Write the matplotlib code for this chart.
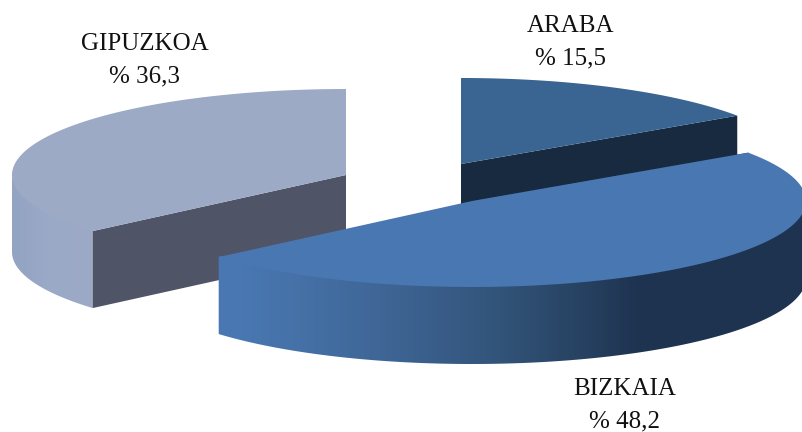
import numpy as np
import matplotlib
matplotlib.use('Agg')
import matplotlib.pyplot as plt
from matplotlib.colors import LinearSegmentedColormap
from matplotlib.patches import Polygon

# Data
names = ['ARABA', 'BIZKAIA', 'GIPUZKOA']
shares = [15.5, 48.2, 36.3]
share_labels = ['% 15,5', '% 48,2', '% 36,3']

top_colors = ['#3a6491', '#4977b1', '#9caac6']
cut_colors = ['#182a40', '#1e3350', '#4f5566']

# apex of each exploded slice, in pixels
centers = [(461, 164), (472, 201), (346, 175)]
label_pos = [(571, 42), (625, 405), (145, 60)]
A = 334
B = 86
DEPTH = 77

fig = plt.figure(figsize=(8.03, 4.32), dpi=100)
ax = fig.add_axes([0, 0, 1, 1])
ax.axis('off')


# point on the rim, angle in degrees clockwise from the top
def rim(center, t, drop=0):
    t = np.radians(t)
    return np.column_stack([center[0] + A * np.sin(t), center[1] - B * np.cos(t) + drop])


def gradient_wall(center, t0, t1, stops, z):
    ts = np.linspace(t0, t1, 200)
    # upper edge sits 2px under the top face so no light seam shows
    upper = rim(center, ts, -2)
    upper[0], upper[-1] = rim(center, ts[[0, -1]])
    pts = np.vstack([upper, rim(center, ts[::-1], DEPTH)])
    patch = Polygon(pts, closed=True, transform=ax.transData, facecolor='none', edgecolor='none')
    ax.add_patch(patch)
    cmap = LinearSegmentedColormap.from_list('wall', [(p / 803, c) for p, c in stops])
    img = ax.imshow(np.linspace(0, 1, 803).reshape(1, -1), cmap=cmap, vmin=0, vmax=1,
                    extent=[0, 803, 432, 0], aspect='auto', zorder=z)
    img.set_clip_path(patch)


edges = np.concatenate([[0], np.cumsum(shares) / sum(shares) * 360])

# Gipuzkoa first, then Araba, Bizkaia lies on top of both
for i in [2, 0, 1]:
    c = centers[i]
    t0, t1 = edges[i], edges[i + 1]
    z = {2: 2, 0: 2, 1: 4}[i]
    if i == 1:
        gradient_wall(c, 90, t1, [(0, '#4977b1'), (240, '#4977b1'), (300, '#4571a7'),
                                  (400, '#3d6392'), (500, '#325479'), (590, '#26405f'),
                                  (640, '#1e3350'), (803, '#1f3350')], 4)
    if i == 2:
        gradient_wall(c, t0, 270, [(0, '#93a3c2'), (12, '#93a3c2'), (45, '#9aa9c7'),
                                   (92, '#9caac6'), (803, '#9caac6')], 1)
    # cut face towards the viewer
    cut_t = t1 if i == 0 else t0
    p = rim(c, cut_t)[0]
    ax.add_patch(Polygon([c, p, (p[0], p[1] + DEPTH), (c[0], c[1] + DEPTH)], closed=True,
                         facecolor=cut_colors[i], edgecolor='none', zorder=z))
    ts = np.linspace(t0, t1, 200)
    ax.add_patch(Polygon(np.vstack([[c], rim(c, ts)]), closed=True,
                         facecolor=top_colors[i], edgecolor='none', zorder=z + 1))

for name, lab, pos in zip(names, share_labels, label_pos):
    ax.text(pos[0], pos[1], name + '\n' + lab, ha='center', va='center', fontsize=18,
            family='Liberation Serif', color='#111111', linespacing=1.6, zorder=6)

ax.set_xlim(0, 803)
ax.set_ylim(432, 0)
fig.savefig('out.png', dpi=100)
